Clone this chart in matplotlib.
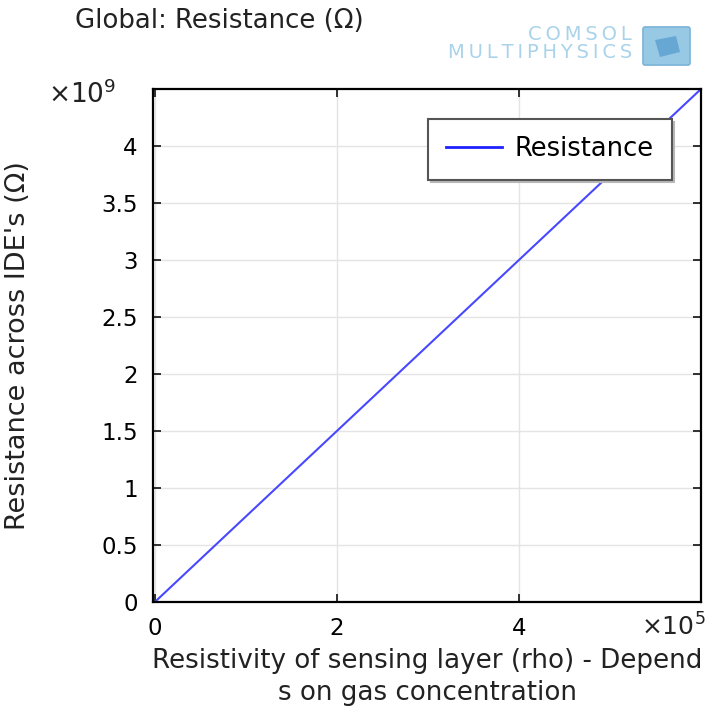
import numpy as np
import matplotlib.pyplot as plt
from matplotlib.ticker import FuncFormatter
from matplotlib.patches import FancyBboxPatch, Polygon

# sweep of sensing-layer resistivity and resulting IDE resistance
rho = [0.0, 1e5, 2e5, 3e5, 4e5, 5e5, 6e5]
resistance = [0.0, 0.75e9, 1.5e9, 2.25e9, 3.0e9, 3.75e9, 4.5e9]

x_ticks = [0, 2e5, 4e5]
y_ticks = [0, 0.5e9, 1e9, 1.5e9, 2e9, 2.5e9, 3e9, 3.5e9, 4e9]

plt.rcParams['font.family'] = 'DejaVu Sans'
plt.rcParams['mathtext.fontset'] = 'dejavusans'

W, H = 707, 710
fig = plt.figure(figsize=(W / 100, H / 100), dpi=100)
ax = fig.add_axes([153 / W, 1 - 602 / H, 548 / W, 513 / H])

ax.plot(rho, resistance, color='#4848ff', lw=1.5, label='Resistance')

ax.set_xlim(-2000, 6e5)
ax.set_ylim(0, 4.5e9)
ax.set_xticks(x_ticks)
ax.set_yticks(y_ticks)
ax.xaxis.set_major_formatter(FuncFormatter(lambda v, p: f'{v/1e5:g}'))
ax.yaxis.set_major_formatter(FuncFormatter(lambda v, p: f'{v/1e9:g}'))

ax.grid(True, color='#e4e4e4', lw=1)
ax.set_axisbelow(True)
ax.tick_params(which='major', direction='in', top=True, right=True,
               labelsize=16.5, color='#222222', length=6, width=1.3, pad=11)
for s in ax.spines.values():
    s.set_linewidth(1.6)

# axis multipliers
fig.text(116 / W, 1 - 95 / H, r'$\times10^{9}$', ha='right', va='center',
         fontsize=19, color='#222222')
fig.text(706 / W, 1 - 627 / H, r'$\times10^{5}$', ha='right', va='center',
         fontsize=18, color='#222222')

ax.set_xlabel('Resistivity of sensing layer (rho) - Depend\ns on gas concentration',
              fontsize=18.8, linespacing=1.3, color='#222222')
ax.xaxis.set_label_coords(0.5, -0.09)
ax.set_ylabel("Resistance across IDE's (\u03a9)", fontsize=19.5, color='#222222')
ax.yaxis.set_label_coords(-0.223, 0.5)

leg = ax.legend(loc='upper left', bbox_to_anchor=(0.502, 0.942), fontsize=18.5,
                fancybox=False, shadow={'color': '#b8b8b8', 'alpha': 1},
                framealpha=1, edgecolor='#555555',
                borderpad=0.68, handlelength=2.2, handletextpad=0.5,
                borderaxespad=0)
leg.get_frame().set_linewidth(1.5)
leg.get_lines()[0].set_color('#2020ff')
leg.get_lines()[0].set_linewidth(2)

fig.text(75 / W, 1 - 21 / H, 'Global: Resistance (\u03a9)', fontsize=18.7,
         va='center', ha='left', color='#222222')

# vendor mark in the top corner
ts = '\u2009'
fig.text(632 / W, 1 - 35 / H, ts.join('COMSOL'), fontsize=14, color='#a9d3ea',
         ha='right', va='center')
fig.text(632 / W, 1 - 53 / H, ts.join('MULTIPHYSICS'), fontsize=14,
         color='#a9d3ea', ha='right', va='center')
fig.patches.append(FancyBboxPatch((645 / W, 1 - 63 / H), 43 / W, 34 / H,
                                  boxstyle='round,pad=0.003', fc='#8cc2e2',
                                  ec='#6aaad4', alpha=0.9,
                                  transform=fig.transFigure))
fig.patches.append(Polygon([(655 / W, 1 - 40 / H), (676 / W, 1 - 36 / H),
                            (680 / W, 1 - 52 / H), (660 / W, 1 - 57 / H)],
                           closed=True, fc='#5a9fd0', ec='none', alpha=0.8,
                           transform=fig.transFigure))

fig.savefig('out.png', dpi=100)
